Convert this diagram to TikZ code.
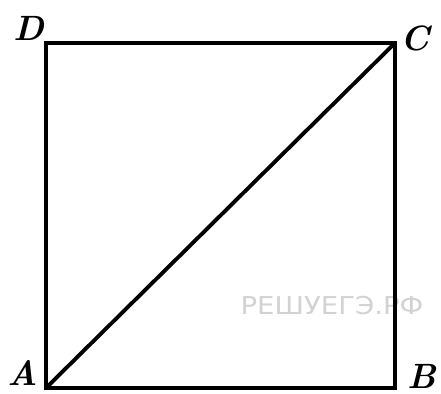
\documentclass[tikz,border=0pt]{standalone}
\usepackage{fontspec}
\newfontfamily\wmfont{DejaVu Sans}
\usetikzlibrary{calc}
\tikzset{
  side/.style={draw=black, line width=2.2pt, line join=miter},
  vlabel/.style={font=\fontsize{20}{22}\selectfont\bfseries\itshape, inner sep=0pt},
  watermark/.style={font=\wmfont\fontsize{14}{16}\selectfont, text=gray!35, inner sep=0pt}
}

\begin{document}
\begin{tikzpicture}[x=0.02cm, y=-0.02cm]
  \useasboundingbox (0,0) rectangle (441,394);

  % watermark behind the square
  \node[watermark, xscale=1.12] (wm) at (332,306) {РЕШУЕГЭ.РФ};

  \coordinate (A) at (46,388);
  \coordinate (B) at (395,388);
  \coordinate (C) at (395,43);
  \coordinate (D) at (46,43);

  \draw[side] (A) -- (B) -- (C) -- (D) -- cycle;
  \draw[side] (A) -- (C);

  \node[vlabel] (lA) at (23,373) {A};
  \node[vlabel] (lB) at (422,376) {B};
  \node[vlabel] (lC) at (415,38) {C};
  \node[vlabel] (lD) at (29,28) {D};
\end{tikzpicture}
\end{document}
